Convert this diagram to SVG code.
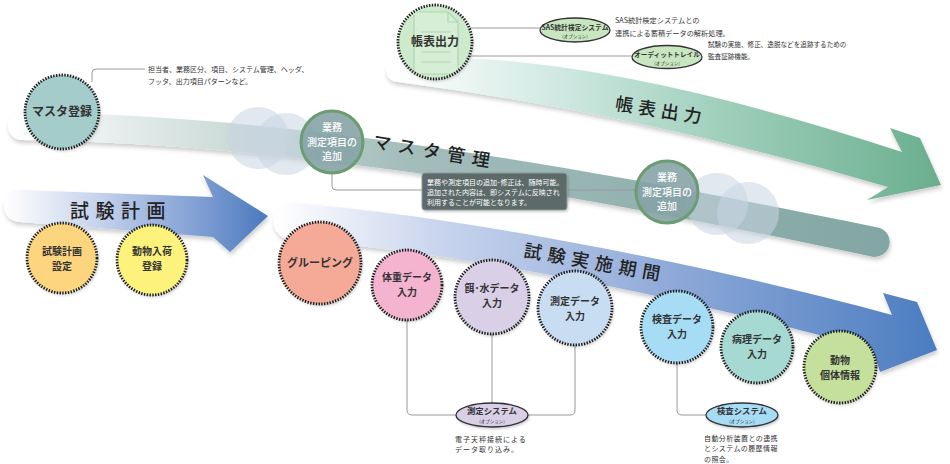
<svg xmlns="http://www.w3.org/2000/svg" width="950" height="464" viewBox="0 0 950 464">
<defs>
<style>
.t{font-family:"Noto Sans CJK JP","Noto Sans",sans-serif;fill:#333}
.lbl{font-size:10px;font-weight:700;text-anchor:middle}
.wl{font-size:10px;font-weight:500;text-anchor:middle;fill:#fff}
.band{font-size:18px;font-weight:500;fill:#222;text-anchor:middle}
.note{font-size:7px}
.opt{font-size:8.5px;font-weight:700;text-anchor:middle}
.sub{font-size:4.5px;text-anchor:middle}
.dot{stroke:#1a1a1a;stroke-width:2.8;stroke-dasharray:1.4 1.4}
.ln{fill:none;stroke:#9a9a9a;stroke-width:1}
.ell{stroke:#333;stroke-width:1.3}
.deco{fill:#c8d5e2;opacity:0.55}
.biz{fill:#86a3a6;fill-opacity:0.9;stroke:#6c9c72;stroke-width:3}
</style>
<linearGradient id="gGreen" gradientUnits="userSpaceOnUse" x1="398" y1="0" x2="940" y2="0">
<stop offset="0" stop-color="#ffffff"/><stop offset="0.3" stop-color="#cfe8e1"/><stop offset="0.6" stop-color="#9fcfbb"/><stop offset="1" stop-color="#6aae8e"/>
</linearGradient>
<linearGradient id="gMaster" gradientUnits="userSpaceOnUse" x1="10" y1="0" x2="890" y2="0">
<stop offset="0" stop-color="#ffffff"/><stop offset="0.2" stop-color="#d6e2e0"/><stop offset="0.45" stop-color="#a3bdbb"/><stop offset="1" stop-color="#82a6a3"/>
</linearGradient>
<linearGradient id="gPlan" gradientUnits="userSpaceOnUse" x1="5" y1="0" x2="268" y2="0">
<stop offset="0" stop-color="#ffffff"/><stop offset="0.35" stop-color="#c6d3ec"/><stop offset="0.75" stop-color="#7d9dd2"/><stop offset="1" stop-color="#4a79bd"/>
</linearGradient>
<linearGradient id="gExec" gradientUnits="userSpaceOnUse" x1="275" y1="0" x2="940" y2="0">
<stop offset="0" stop-color="#ffffff"/><stop offset="0.25" stop-color="#c8d4ed"/><stop offset="0.6" stop-color="#8ea9d8"/><stop offset="1" stop-color="#4a7cc0"/>
</linearGradient>
<filter id="sh" x="-5%" y="-20%" width="110%" height="160%">
<feDropShadow dx="1" dy="3" stdDeviation="2" flood-color="#000" flood-opacity="0.2"/>
</filter>
<filter id="csh" x="-20%" y="-20%" width="140%" height="140%">
<feDropShadow dx="1" dy="1.5" stdDeviation="1.2" flood-color="#000" flood-opacity="0.2"/>
</filter>
<clipPath id="docclip"><circle cx="435" cy="42" r="35"/></clipPath>
</defs>
<rect width="950" height="464" fill="#ffffff"/>

<g id="bands">
<path filter="url(#sh)" fill="url(#gGreen)" d="M 398,58 Q 590,49 902,152 L 890,128 L 920,138 L 941,185 L 867,200 L 888,187 Q 637,113 398,82 A 12 12 0 0 1 398,58 Z"/>
<path filter="url(#sh)" fill="url(#gMaster)" d="M 22,112 C 250,115 500,150 880,228 A 15 15 0 0 1 874,257 C 500,178 250,143 22,140 A 14 14 0 0 1 22,112 Z"/>
<path filter="url(#sh)" fill="url(#gPlan)" d="M 20,190 L 213,197 L 203,175 L 268,216 L 230,252 L 213,237 L 20,222 A 16 16 0 0 1 20,190 Z"/>
<path filter="url(#sh)" fill="url(#gExec)" d="M 292,203 C 450,215 700,262 892,315 L 883,293 L 917,302 L 937,350 L 880,372 L 873,350 C 700,300 450,250 292,240 A 18.5 18.5 0 0 1 292,203 Z"/>
<text class="t band" transform="translate(660,117) rotate(9)" letter-spacing="5">帳表出力</text>
<text class="t band" transform="translate(434,158) rotate(9.5)" letter-spacing="7">マスタ管理</text>
<text class="t band" style="font-size:19px" x="121" y="218" letter-spacing="6.5">試験計画</text>
<text class="t band" transform="translate(594,269) rotate(10)" letter-spacing="6">試験実施期間</text>
</g>

<g id="decor">
<circle class="deco" cx="258" cy="138" r="31"/>
<circle class="deco" cx="286" cy="144" r="31"/>
<circle class="deco" cx="717" cy="204" r="31"/>
<circle class="deco" cx="748" cy="213" r="31"/>
</g>

<g id="connectors">
<path class="ln" d="M 92,82 V 73 Q 92,69 96,69 H 145"/>
<path class="ln" d="M 470,28 H 540"/>
<path class="ln" d="M 468,56 H 632"/>
<path class="ln" d="M 332,173 V 186 Q 332,190 336,190 H 422"/>
<path class="ln" d="M 567,190 H 636"/>
<path class="ln" d="M 407,320 V 410 Q 407,415 412,415 H 457"/>
<path class="ln" d="M 492,334 V 403"/>
<path class="ln" d="M 575,345 V 410 Q 575,415 570,415 H 527"/>
<path class="ln" d="M 677,363 V 410 Q 677,415 682,415 H 706"/>
</g>

<g id="master-reg">
<circle cx="62" cy="112" r="37" fill="#a3cccb" class="dot" filter="url(#csh)"/>
<text class="t lbl" style="font-size:12px" x="62" y="116">マスタ登録</text>
<text class="t note" x="148" y="72">担当者、業務区分、項目、システム管理、ヘッダ、<tspan x="148" dy="12">フッタ、出力項目パターンなど。</tspan></text>
</g>

<g id="report">
<circle cx="435" cy="42" r="37" fill="#cdeacc" class="dot" filter="url(#csh)"/>
<g clip-path="url(#docclip)" fill="none" stroke="#b2d3b2" stroke-width="1.2">
<path d="M 414,12 H 448 L 458,22 V 74 H 414 Z" fill="#d6eed5"/>
<path d="M 448,12 V 22 H 458"/>
<path d="M 421,32 H 451 M 421,52 H 451 M 421,62 H 451"/>
</g>
<text class="t lbl" style="font-size:12px" x="435" y="46">帳表出力</text>
</g>

<g id="sas">
<ellipse class="ell" cx="575" cy="30" rx="35" ry="12" fill="#c8e6c0"/>
<text class="t opt" style="font-size:6.8px" x="575" y="29.5">SAS統計検定システム<tspan class="sub" style="font-weight:400" x="575" dy="8">(オプション)</tspan></text>
<text class="t note" style="font-size:7.2px" x="615" y="23">SAS統計検定システムとの<tspan x="615" dy="13">連携による蓄積データの解析処理。</tspan></text>
</g>

<g id="audit">
<ellipse class="ell" cx="667" cy="57" rx="35" ry="11.5" fill="#c8e6c0"/>
<text class="t opt" style="font-size:6.6px" x="667" y="56.5">オーディットトレイル<tspan class="sub" style="font-weight:400" x="667" dy="8">(オプション)</tspan></text>
<text class="t note" style="font-size:6.6px" x="708" y="47">試験の実施、修正、逸脱などを追跡するための<tspan x="708" dy="12">監査証跡機能。</tspan></text>
</g>

<g id="biz1">
<circle class="biz" cx="332" cy="142" r="31"/>
<text class="t wl" x="332" y="131">業務<tspan x="332" dy="14.6">測定項目の</tspan><tspan x="332" dy="14.6">追加</tspan></text>
</g>

<g id="biz-note">
<rect x="422" y="173" width="145" height="37" rx="3" fill="#5d6a6a" stroke="#8d9a9a" stroke-width="1" filter="url(#csh)"/>
<text class="t note" style="font-size:7px;fill:#fff" x="427" y="184.5">業務や測定項目の追加･修正は、随時可能。<tspan x="427" dy="10.3">追加された内容は、即システムに反映され</tspan><tspan x="427" dy="10.3">利用することが可能となります。</tspan></text>
</g>

<g id="biz2">
<circle class="biz" cx="667" cy="192" r="31"/>
<text class="t wl" x="667" y="181">業務<tspan x="667" dy="14.6">測定項目の</tspan><tspan x="667" dy="14.6">追加</tspan></text>
</g>

<g id="plan-set">
<circle cx="62" cy="258" r="35" fill="#fdd57e" class="dot" filter="url(#csh)"/>
<text class="t lbl" x="62" y="255">試験計画<tspan x="62" dy="14.6">設定</tspan></text>
</g>

<g id="animal-in">
<circle cx="152" cy="260" r="35" fill="#fdf27b" class="dot" filter="url(#csh)"/>
<text class="t lbl" x="152" y="255">動物入荷<tspan x="152" dy="14.6">登録</tspan></text>
</g>

<g id="grouping">
<circle cx="320" cy="263" r="41" fill="#f5aa98" class="dot" filter="url(#csh)"/>
<text class="t lbl" style="font-size:11px" x="320" y="267">グルーピング</text>
</g>

<g id="weight">
<circle cx="407" cy="285" r="35" fill="#f4b3cf" class="dot" filter="url(#csh)"/>
<text class="t lbl" x="407" y="281">体重データ<tspan x="407" dy="14.6">入力</tspan></text>
</g>

<g id="feed">
<circle cx="492" cy="297" r="37" fill="#d9d0e8" class="dot" filter="url(#csh)"/>
<text class="t lbl" x="492" y="292">餌･水データ<tspan x="492" dy="14.6">入力</tspan></text>
</g>

<g id="measure">
<circle cx="575" cy="308" r="37" fill="#c8ddf2" class="dot" filter="url(#csh)"/>
<text class="t lbl" x="575" y="305">測定データ<tspan x="575" dy="14.6">入力</tspan></text>
</g>

<g id="exam">
<circle cx="677" cy="327" r="36" fill="#a7dcf5" class="dot" filter="url(#csh)"/>
<text class="t lbl" x="677" y="323">検査データ<tspan x="677" dy="14.6">入力</tspan></text>
</g>

<g id="patho">
<circle cx="757" cy="347" r="36" fill="#a6d9d2" class="dot" filter="url(#csh)"/>
<text class="t lbl" x="757" y="343">病理データ<tspan x="757" dy="14.6">入力</tspan></text>
</g>

<g id="animal-info">
<circle cx="840" cy="367" r="36" fill="#c5e09c" class="dot" filter="url(#csh)"/>
<text class="t lbl" x="840" y="364">動物<tspan x="840" dy="14.6">個体情報</tspan></text>
</g>

<g id="measure-sys">
<ellipse class="ell" cx="492" cy="415" rx="36" ry="12" fill="#d9d0e8" filter="url(#csh)"/>
<text class="t opt" style="font-size:8.4px" x="492" y="414">測定システム<tspan class="sub" style="font-weight:400" x="492" dy="8.5">(オプション)</tspan></text>
<text class="t note" style="font-size:7px" x="455" y="442" letter-spacing="1">電子天秤接続による<tspan x="455" dy="10.3">データ取り込み。</tspan></text>
</g>

<g id="exam-sys">
<ellipse class="ell" cx="742" cy="415" rx="36" ry="12" fill="#a7dcf5" filter="url(#csh)"/>
<text class="t opt" style="font-size:8.4px" x="742" y="414">検査システム<tspan class="sub" style="font-weight:400" x="742" dy="8.5">(オプション)</tspan></text>
<text class="t note" style="font-size:7px" x="704" y="441" letter-spacing="0.4">自動分析装置との連携<tspan x="704" dy="10.3">とシステムの履歴情報</tspan><tspan x="704" dy="10.3">の照会。</tspan></text>
</g>
</svg>
